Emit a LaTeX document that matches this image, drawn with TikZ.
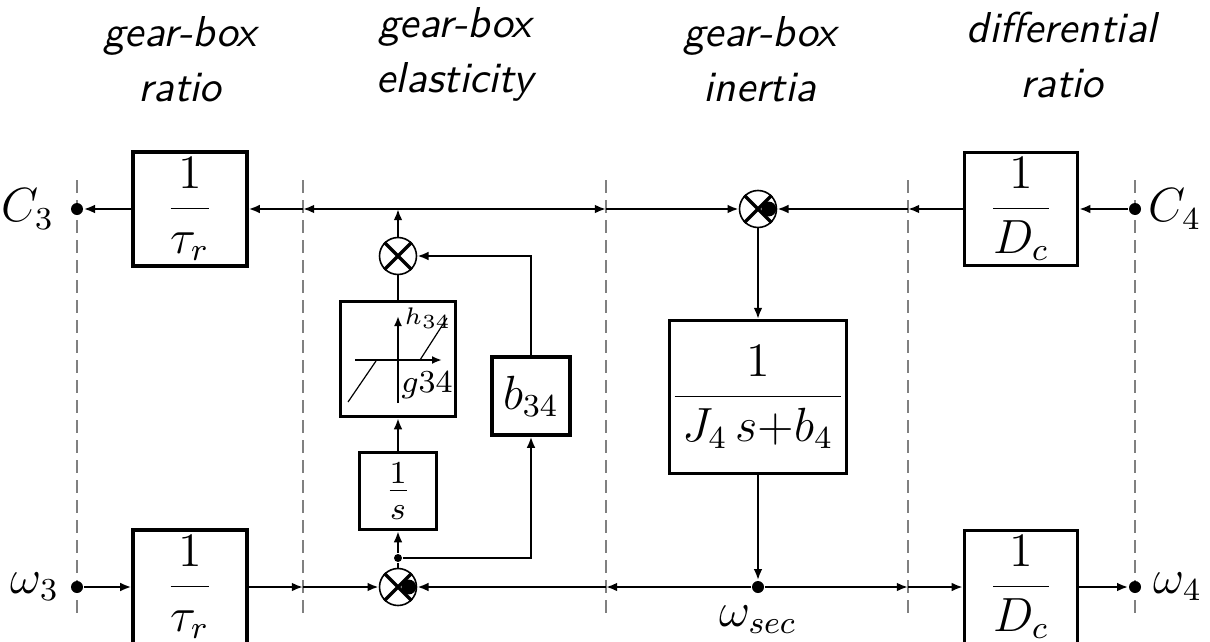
\documentclass[tikz,border=0pt]{standalone}
\usetikzlibrary{arrows.meta}
\tikzset{
	blk/.style={draw, line width=0.8pt, inner sep=0pt, minimum width=#1, minimum height=#1},
	sumnode/.style={circle, draw, line width=0.4pt, minimum size=9.25pt, inner sep=0pt},
	dot/.style={circle, fill, inner sep=0pt, minimum size=#1},
	sig/.style={line width=0.6pt, -{Latex[length=2.8pt,width=2.2pt]}},
	sep/.style={gray, line width=0.4pt, dash pattern=on 3.3pt off 1.7pt},
	ttl/.style={align=center, inner sep=0pt, anchor=north, font=\fontsize{10.8}{13.75}\selectfont\sffamily\itshape},
	lbl/.style={inner sep=0pt, font=\fontsize{12}{14}\selectfont}
}
\newcommand{\crossit}[1]{\draw[line width=0.8pt] (#1.north east) -- (#1.south west) (#1.north west) -- (#1.south east);}
\newcommand{\minusdot}[1]{\fill ([xshift=2.7pt]#1.center) circle (1.85pt);}
\begin{document}
\begin{tikzpicture}[x=0.25pt, y=-0.25pt, font=\fontsize{12}{14}\selectfont]
	\useasboundingbox (0,0) rectangle (1210,642);
	% section titles
	\node[ttl] (t1) at (180,16) {gear-box\\ratio};
	\node[ttl] (t2) at (455,7) {gear-box\\elasticity};
	\node[ttl] (t3) at (760,16) {gear-box\\inertia};
	\node[ttl] (t4) at (1062,11) {differential\\ratio};
	% separators
	\foreach \x in {77, 303, 606, 908, 1135} \draw[sep] (\x,180)--(\x,615);
	% blocks
	\node[blk=28.5pt] (tr1) at (190,209) {$\displaystyle\frac{1}{\tau_r}$};
	\node[blk=28.5pt] (tr2) at (190,587) {$\displaystyle\frac{1}{\tau_r}$};
	\node[blk=28.3pt] (dc1) at (1021,209) {$\displaystyle\frac{1}{D_c}$};
	\node[blk=28.3pt] (dc2) at (1021,587) {$\displaystyle\frac{1}{D_c}$};
	\node[blk=28.75pt] (nl) at (398,359) {};
	\node[blk=19.5pt] (b34) at (531,396) {$b_{34}$};
	\node[blk=19.25pt] (is) at (398,491) {$\frac{1}{s}$};
	\node[blk=38.2pt] (ji) at (758,397) {$\displaystyle\frac{1}{\,J_4\,s{+}b_4\,}$};
	% dead zone sketch
	\draw[-{Latex[length=2.5pt,width=2pt]}, line width=0.5pt] (355,360)--(442,360);
	\draw[-{Latex[length=2.5pt,width=2pt]}, line width=0.5pt] (398,403)--(398,316);
	\draw[line width=0.3pt] (348,402)--(376,361) (420,360)--(447,318);
	\node[inner sep=0pt, font=\fontsize{6}{7}\selectfont] (hl) at (428,318) {$h_{34}$};
	\node[inner sep=0pt, font=\fontsize{8.5}{9}\selectfont] (gl) at (427,385) {$g34$};
	% summing points
	\node[sumnode] (se) at (398,256) {};
	\node[sumnode] (si) at (758,209) {};
	\node[sumnode] (sb) at (398,587) {};
	\crossit{se} \crossit{si} \crossit{sb}
	\minusdot{si} \minusdot{sb}
	% ports
	\node[dot=3pt] (c3) at (77,209) {};
	\node[dot=3pt] (c4) at (1135,209) {};
	\node[dot=3pt] (w3) at (77,587) {};
	\node[dot=3pt] (w4) at (1135,587) {};
	\node[dot=3pt] (wsec) at (758,587) {};
	\node[dot=2pt] (br) at (398,558) {};
	\node[lbl, anchor=east] (lc3) at (55,209) {$C_3$};
	\node[lbl, anchor=west] (lc4) at (1148,209) {$C_4$};
	\node[lbl, anchor=east] (lw3) at (60,587) {$\omega_3$};
	\node[lbl, anchor=west] (lw4) at (1153,587) {$\omega_4$};
	\node[lbl] (lws) at (758,620) {$\omega_{sec}$};
	\coordinate (jt) at (398,209);
	\coordinate (d2t) at (303,209);
	\coordinate (d3t) at (606,209);
	\coordinate (d4t) at (908,209);
	\coordinate (d2b) at (303,587);
	\coordinate (d3b) at (606,587);
	\coordinate (d4b) at (908,587);
	% top row
	\draw[sig] (tr1) -- (c3);
	\draw[sig] (jt) -- (d2t);
	\draw[sig] (d2t) -- (tr1);
	\draw[sig] (jt) -- (d3t);
	\draw[sig] (d3t) -- (si);
	\draw[sig] (dc1) -- (d4t);
	\draw[sig] (d4t) -- (si);
	\draw[sig] (c4) -- (dc1);
	\draw[sig] (si) -- (ji);
	\draw[sig] (ji) -- (wsec);
	% elasticity loop
	\draw[sig] (se) -- (jt);
	\draw[line width=0.6pt] (nl) -- (se);
	\draw[sig] (b34) |- (se);
	\draw[sig] (is) -- (nl);
	\draw[sig] (br) -- (is);
	\draw[sig] (br) -| (b34);
	\draw[line width=0.6pt] (sb) -- (br);
	% bottom row
	\draw[sig] (w3) -- (tr2);
	\draw[sig] (tr2) -- (d2b);
	\draw[sig] (d2b) -- (sb);
	\draw[sig] (wsec) -- (d3b);
	\draw[sig] (d3b) -- (sb);
	\draw[sig] (wsec) -- (d4b);
	\draw[sig] (d4b) -- (dc2);
	\draw[sig] (dc2) -- (w4);
\end{tikzpicture}
\end{document}
